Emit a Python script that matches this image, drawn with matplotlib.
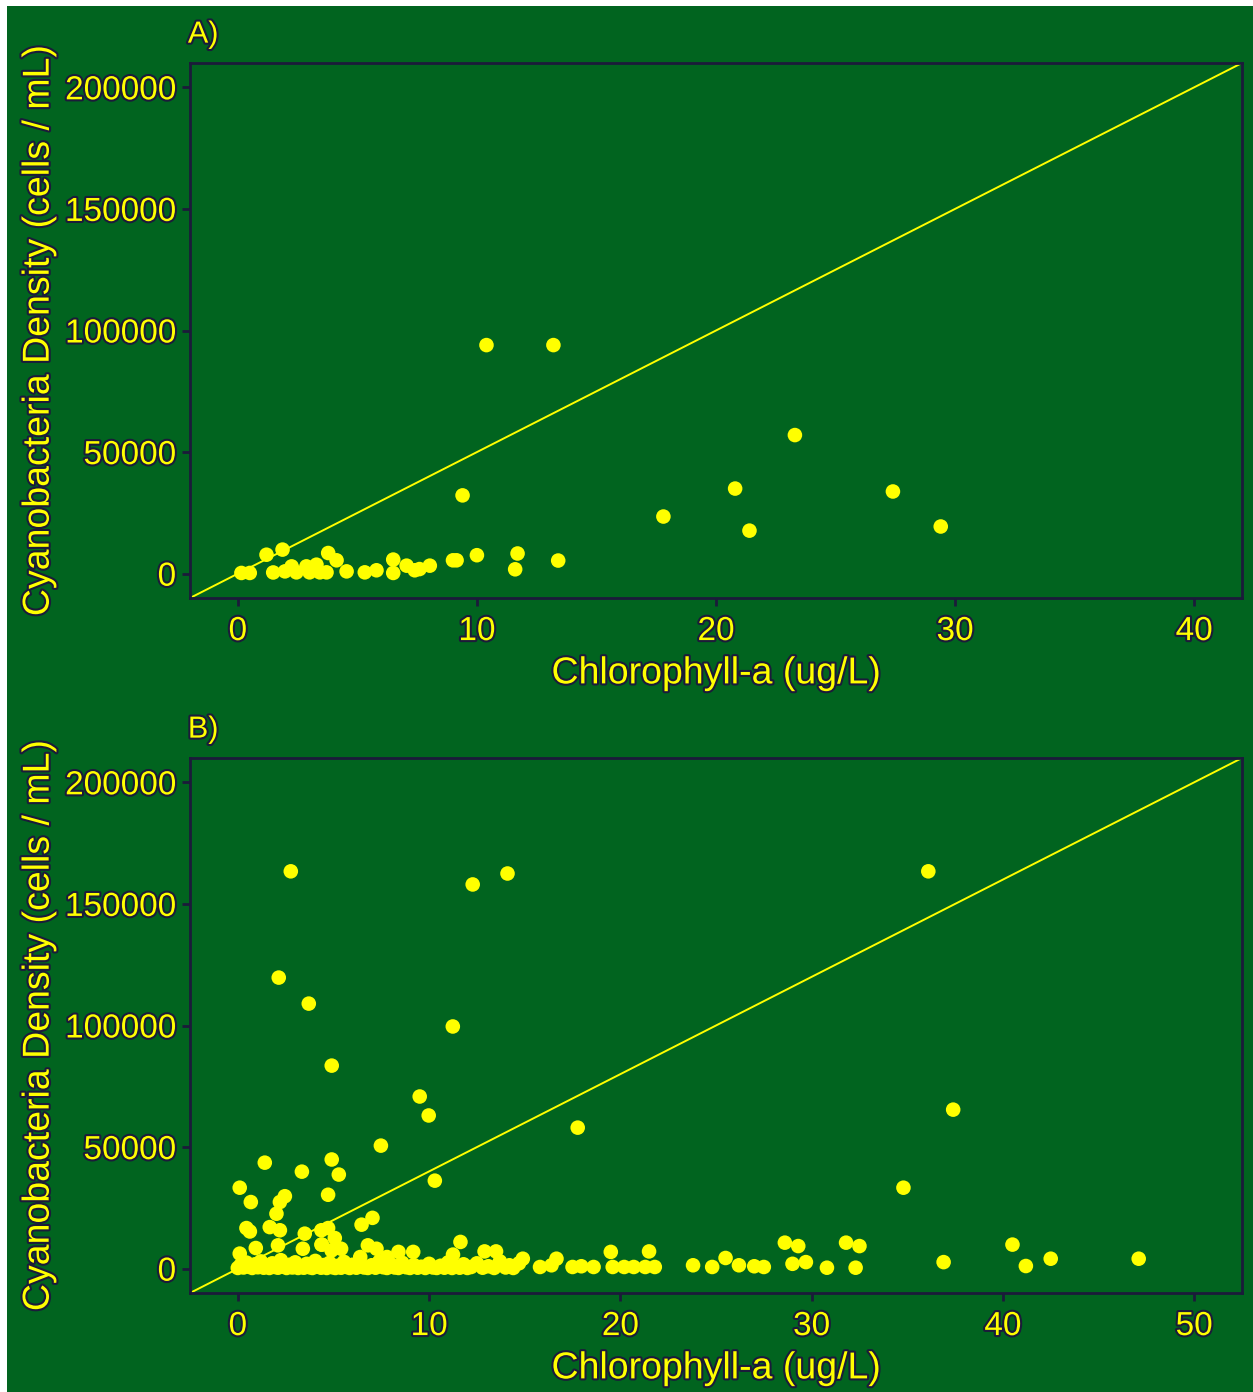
import matplotlib
matplotlib.use("Agg")
import matplotlib.pyplot as plt
import matplotlib.patheffects as pe
from matplotlib.patches import Rectangle
import numpy as np

# ---------------- data ----------------
# Panel A
chl_a = [10.4, 13.2, 23.3, 9.4, 20.8, 27.4, 17.8, 29.4, 21.4, 10.0, 11.7, 11.6, 13.4,
         0.15, 0.5, 1.2, 1.87, 1.48, 1.97, 2.25, 2.45, 2.87, 3.0, 3.29, 3.43, 3.71,
         3.78, 4.13, 4.55, 5.31, 5.8, 6.5, 6.5, 7.06, 7.4, 7.6, 8.03, 9.0, 9.15]
cyano_a = [94000, 94000, 57000, 32200, 35000, 33800, 23500, 19400, 17700, 7600, 8300, 1800, 5400,
           300, 300, 7800, 9900, 500, 950, 3000, 550, 3000, 550, 3700, 550, 550,
           8500, 5500, 950, 550, 1400, 5800, 300, 3300, 1400, 1900, 3300, 5500, 5500]

# Panel B
chl_b = [2.77, 12.28, 14.1, 36.1, 2.14, 3.71, 11.24, 4.91, 9.51, 9.98, 37.4, 17.77, 7.48,
         1.41, 4.91, 3.35, 5.28, 10.3, 0.1, 34.8, 4.72, 2.46, 2.2, 2.02, 0.68, 7.04, 6.47,
         0.45, 0.63, 1.67, 2.2, 3.5, 4.37, 4.72, 5.07, 4.37, 0.94, 11.64,
         28.6, 29.3, 29.0, 29.7, 30.8, 31.8, 32.5, 32.3, 36.9, 40.5, 41.2, 42.5, 47.1,
         23.8, 24.8, 25.5, 26.2, 27.0, 27.5,
         9.17, 11.25, 12.9, 13.5, 14.9, 15.8, 16.66, 16.4, 17.5, 17.96, 18.6, 19.5, 19.6,
         20.2, 20.7, 21.3, 21.5, 21.8, 14.2,
         0.1, 2.1, 3.4, 4.4, 4.9, 5.4, 6.4, 6.8, 7.25, 7.8, 8.4,
         0.0, 0.15, 0.3, 0.45, 0.6, 0.75, 0.9, 1.05, 1.2, 1.35, 1.5, 1.65, 1.8, 1.95,
         2.1, 2.25, 2.4, 2.55, 2.7, 2.85, 3.0, 3.15, 3.3, 3.45, 3.6, 3.75, 3.9, 4.05,
         4.2, 4.35, 4.5, 4.65, 4.8, 4.95, 5.1, 5.25, 5.4, 5.55, 5.7, 5.85, 6.0, 6.2,
         6.4, 6.6, 6.8, 7.0, 7.2, 7.4, 7.6, 7.8, 8.0, 8.2, 8.4, 8.6, 8.8, 9.0, 9.2,
         9.4, 9.6, 9.8, 10.0, 10.2, 10.4, 10.6, 10.8, 11.0, 11.2, 11.4, 11.6, 11.8,
         12.0, 12.2, 12.5, 12.8, 13.1, 13.4, 13.7, 14.0, 14.4, 14.7]
cyano_b = [163400, 158000, 162500, 163400, 119700, 109000, 99600, 83500, 70800, 63000, 65400, 58000, 50600,
           43600, 44900, 39900, 38700, 36200, 33300, 33300, 30400, 29800, 27400, 22600, 27400, 20900, 18100,
           16700, 15300, 17100, 15800, 14400, 15800, 16700, 12600, 9900, 8500, 11000,
           10700, 9300, 2000, 2700, 400, 10700, 9300, 400, 2700, 9900, 1100, 4100, 4100,
           1400, 700, 4400, 1400, 1000, 700,
           6900, 5800, 7100, 7100, 4100, 700, 4100, 1400, 700, 1000, 700, 6900, 700,
           700, 700, 700, 7100, 700, 1400,
           6200, 9600, 8200, 9900, 7500, 8200, 4800, 9600, 8200, 4800, 6900,
           300, 1500, 500, 2500, 800, 300, 1800, 600, 3000, 400, 1200, 300, 2200, 700,
           400, 3500, 900, 300, 1600, 500, 2600, 300, 1000, 400, 2000, 600, 300, 3200,
           800, 400, 1500, 300, 2400, 600, 300, 1200, 400, 2800, 700, 300, 1600, 400,
           2200, 500, 300, 1400, 400, 3000, 600, 300, 1800, 500, 300, 2400, 600, 300, 1500,
           400, 800, 300, 2000, 500, 300, 1200, 400, 2600, 300, 900, 400, 1800,
           300, 700, 2200, 400, 1000, 300, 3000, 500, 300, 2200]

panel_labels = ["A)", "B)"]
x_ticks_a = [0, 10, 20, 30, 40]
x_ticks_b = [0, 10, 20, 30, 40, 50]
y_ticks = [0, 50000, 100000, 150000, 200000]
slopes = [5000, 4000]
xlims = [(-2, 42), (-2.5, 52.5)]
ylim = (-10000, 210000)
xlabel = "Chlorophyll-a (ug/L)"
ylabel = "Cyanobacteria Density (cells / mL)"

# ---------------- style ----------------
W, H = 1253, 1392
BG = "#01641f"
YEL = "#ffff00"
NAVY = "#1b1b3a"
FONT = "Liberation Sans"
outline = [pe.withStroke(linewidth=3.0, foreground=NAVY)]

fig = plt.figure(figsize=(W / 100, H / 100), dpi=100, facecolor=BG)
fig.patches.append(Rectangle((0, 1 - 6 / H), 1, 6 / H, transform=fig.transFigure,
                             facecolor="white", edgecolor="none", zorder=10))
fig.patches.append(Rectangle((0, 0), 7 / W, 1, transform=fig.transFigure,
                             facecolor="white", edgecolor="none", zorder=10))

panels = [
    dict(x=chl_a, y=cyano_a, xt=x_ticks_a, top=63),
    dict(x=chl_b, y=cyano_b, xt=x_ticks_b, top=758),
]

for i, p in enumerate(panels):
    left, right, top, bottom = 190, 1242, p["top"], p["top"] + 535
    ax = fig.add_axes([left / W, 1 - bottom / H, (right - left) / W, (bottom - top) / H])
    ax.set_facecolor(BG)
    ax.scatter(p["x"], p["y"], s=110, color=YEL, edgecolors="none", zorder=3)
    xl = xlims[i]
    ax.set_xlim(*xl)
    ax.set_ylim(*ylim)
    ax.axline((0, 0), slope=slopes[i], color=YEL, lw=1.4, zorder=2)
    for s in ax.spines.values():
        s.set_color(NAVY)
        s.set_linewidth(2)
    ax.set_xticks(p["xt"])
    ax.set_yticks(y_ticks)
    ax.tick_params(colors=NAVY, width=2, length=6, labelcolor=YEL, labelsize=24)
    for lab in ax.get_xticklabels() + ax.get_yticklabels():
        lab.set_fontfamily(FONT)
        lab.set_path_effects(outline)
    ax.tick_params(axis="x", pad=7)
    ax.tick_params(axis="y", pad=4)
    ax.set_xlabel(xlabel, color=YEL, fontsize=27, fontfamily=FONT, labelpad=6,
                  path_effects=outline)
    ax.set_ylabel(ylabel, color=YEL, fontsize=27, fontfamily=FONT, labelpad=6,
                  path_effects=outline)
    ax.text(-0.002, 1.025, panel_labels[i], transform=ax.transAxes, color=YEL, fontsize=22,
            fontfamily=FONT, ha="left", va="bottom", path_effects=outline)

fig.savefig("out.png", dpi=100, facecolor=BG)
